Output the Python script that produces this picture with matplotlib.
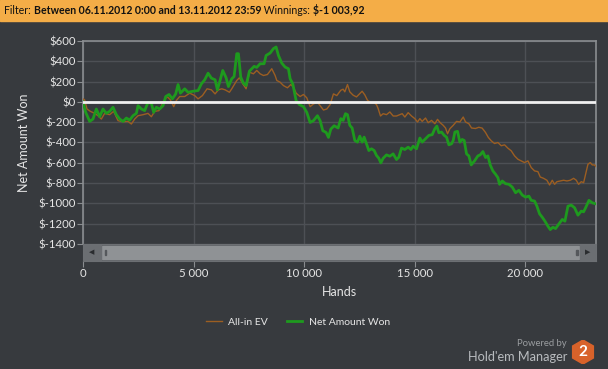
import numpy as np
import matplotlib.pyplot as plt
from matplotlib.patches import Rectangle, RegularPolygon
from matplotlib.ticker import FuncFormatter

plt.rcParams['font.family'] = ['Lato', 'DejaVu Sans']

# hands / cumulative $ won
net_hands = [0, 121, 302, 452, 603, 754, 905, 1055, 1206, 1357, 1508, 1659, 1810, 1961,
             2111, 2262, 2413, 2489, 2640, 2790, 2941, 3092, 3197, 3318, 3469, 3620,
             3741, 3891, 4042, 4193, 4299, 4404, 4600, 4751, 4977, 5204, 5354, 5505,
             5656, 5807, 5973, 6078, 6199, 6320, 6471, 6576, 6727, 6833, 6954, 7029,
             7134, 7255, 7376, 7526, 7632, 7738, 7858, 8009, 8190, 8281, 8462, 8612,
             8733, 8839, 8990, 9140, 9290, 9367, 9487, 9638, 9789, 9970, 10121, 10271,
             10422, 10603, 10724, 10845, 10995, 11101, 11207, 11357, 11538, 11659,
             11765, 11870, 11961, 12066, 12172, 12292, 12413, 12518, 12624, 12715,
             12820, 12926, 13047, 13167, 13273, 13379, 13469, 13575, 13725, 13876,
             14027, 14178, 14284, 14404, 14555, 14706, 14827, 14932, 15083, 15234,
             15339, 15490, 15641, 15792, 15912, 16003, 16093, 16214, 16335, 16440,
             16546, 16667, 16742, 16818, 16938, 17044, 17149, 17240, 17345, 17451,
             17557, 17707, 17858, 17964, 18085, 18205, 18311, 18416, 18537, 18658,
             18763, 18839, 18959, 19110, 19261, 19412, 19563, 19713, 19864, 20015,
             20166, 20271, 20422, 20528, 20648, 20769, 20890, 21026, 21131, 21252,
             21372, 21523, 21674, 21795, 21931, 22081, 22232, 22383, 22534, 22640,
             22730, 22881, 23032, 23182]
net_won = [0, -103, -192, -169, -70, -146, -70, -113, -93, -53, -126, -169, -192, -159,
           -179, -136, -113, -37, -70, -86, -4, -14, -103, -53, -70, -37,
           53, 73, 30, 79, 171, 86, 129, 95, 105, 112, 178, 218,
           283, 234, 218, 119, 211, 310, 238, 151, 228, 250, 475, 475,
           244, 184, 161, 303, 327, 350, 340, 376, 376, 458, 481, 525,
           541, 458, 382, 343, 327, 228, 178, 13, -27, -47, -103, -202,
           -185, -136, -185, -284, -301, -350, -268, -235, -257, -165,
           -182, -116, -126, -231, -257, -380, -396, -337, -396, -347,
           -413, -479, -462, -479, -528, -555, -601, -555, -522, -535,
           -512, -568, -545, -455, -469, -446, -469, -436, -462, -356,
           -396, -363, -330, -323, -264, -238, -304, -297, -330, -347,
           -423, -413, -380, -297, -290, -396, -370, -380, -512, -532,
           -621, -581, -532, -522, -489, -548, -532, -621, -680, -713,
           -746, -812, -779, -806, -812, -839, -895, -871, -918, -938,
           -928, -970, -977, -1027, -1103, -1136, -1175, -1225, -1258, -1235,
           -1248, -1202, -1158, -1175, -1027, -1017, -1043, -1116, -1076, -1083,
           -1043, -970, -994, -1004]

ev_hands = [0, 75, 181, 332, 528, 679, 830, 980, 1206, 1387, 1584, 1810, 2036, 2187,
            2338, 2489, 2715, 2941, 3092, 3243, 3439, 3620, 3801, 3952, 4103, 4223,
            4374, 4600, 4826, 5053, 5204, 5400, 5611, 5807, 5973, 6123, 6275, 6425,
            6622, 6727, 6954, 7074, 7225, 7376, 7526, 7707, 7858, 8009, 8160, 8341,
            8537, 8688, 8764, 8914, 9064, 9245, 9397, 9517, 9638, 9819, 9970, 10121,
            10271, 10422, 10603, 10724, 10875, 11026, 11176, 11327, 11478, 11659,
            11765, 11840, 11961, 12066, 12217, 12368, 12518, 12624, 12745, 12865,
            13017, 13167, 13273, 13348, 13454, 13575, 13725, 13876, 14027, 14178,
            14329, 14434, 14555, 14706, 14857, 15008, 15128, 15234, 15339, 15490,
            15611, 15762, 15912, 16033, 16154, 16290, 16395, 16486, 16591, 16742,
            16893, 17044, 17195, 17300, 17451, 17571, 17750, 17900, 18050, 18200,
            18330, 18462, 18612, 18763, 18914, 19065, 19216, 19367, 19517, 19668,
            19819, 19970, 20121, 20271, 20422, 20573, 20679, 20830, 20980, 21101,
            21222, 21327, 21433, 21584, 21735, 21885, 22036, 22187, 22308, 22413,
            22534, 22640, 22730, 22836, 22941, 23032, 23137, 23213]
ev_won = [30, 20, -70, -93, -113, -136, -169, -113, -126, -93, -185, -195, -192, -218,
          -169, -136, -126, -113, -146, -93, -86, -4, 53, 20, -47, 14,
          53, 53, 86, 62, 30, 62, 129, 119, 79, 119, 129, 119,
          95, 129, 211, 238, 178, 129, 293, 277, 310, 277, 260, 270,
          327, 260, 211, 194, 161, 139, 171, 145, 86, 53, 73, 40,
          -47, -20, -4, -37, -80, -70, -27, 79, 62, 115,
          125, 99, 171, 99, 66, 49, 82, 105, 69, 16,
          -7, -7, -27, -66, -139, -116, -126, -99, -139, -139,
          -126, -116, -149, -106, -139, -165, -198, -165, -192, -159,
          -205, -182, -215, -172, -205, -231, -257, -314, -264, -231,
          -192, -198, -149, -198, -215, -257, -262, -250, -258, -300,
          -350, -383, -410, -400, -432, -423, -456, -482, -532, -565,
          -581, -598, -581, -647, -680, -687, -740, -753, -772, -819,
          -772, -812, -786, -779, -772, -779, -772, -753, -772, -812,
          -786, -796, -713, -614, -598, -621, -621, -641]

y_ticks = list(range(-1400, 601, 200))
x_ticks = [0, 5000, 10000, 15000, 20000]

BG = '#373a3e'
GRID = '#4d5055'
FRAME = '#8a8d90'
TXT = '#e6e6e6'
GREEN = '#1e9a1e'
BROWN = '#9c5e22'

W, H = 608, 369
fig = plt.figure(figsize=(W / 100, H / 100), dpi=100, facecolor=BG)


def box(l, t, r, b):
    return [l / W, 1 - b / H, (r - l) / W, (b - t) / H]


# top filter banner
fig.patches.append(Rectangle((0, 1 - 21 / H), 1, 21 / H, transform=fig.transFigure,
                             color='#f4ad47', zorder=0))
parts = [("Filter: ", 'normal'), ("Between 06.11.2012 0:00 and 13.11.2012 23:59", 'bold'),
         (" Winnings: ", 'normal'), ("$-1 003,92", 'bold')]
xpos = 4
renderer = fig.canvas.get_renderer()
for s, w in parts:
    t = fig.text(xpos / W, 1 - 10.5 / H, s, fontsize=7.6, fontweight=w, color='#111111',
                 va='center', ha='left')
    xpos += t.get_window_extent(renderer).width

ax = fig.add_axes(box(83, 41, 596, 244))
ax.set_facecolor(BG)
ax.plot(ev_hands, ev_won, color=BROWN, lw=1.0, label='All-in EV', zorder=3)
ax.plot(net_hands, net_won, color=GREEN, lw=2.0, label='Net Amount Won', zorder=4)
ax.axhline(0, color='#f0f0f0', lw=2.0, zorder=5)
ax.set_xlim(0, 23200)
ax.set_ylim(-1400, 600)
ax.set_yticks(y_ticks)
ax.set_xticks(x_ticks)
ax.yaxis.set_major_formatter(FuncFormatter(lambda v, p: f"${int(v)}"))
ax.tick_params(axis='y', colors=FRAME, labelcolor=TXT, labelsize=8.2, length=4, pad=1)
ax.tick_params(axis='x', bottom=False, labelbottom=False)
ax.grid(True, color=GRID, lw=1.0)
for sp in ax.spines.values():
    sp.set_color(FRAME)
    sp.set_linewidth(1.2)
ax.spines['bottom'].set_visible(False)
ax.set_ylabel('Net Amount Won', color=TXT, fontsize=9, labelpad=6)

# scrollbar under the plot, it also carries the hand ticks
sb = fig.add_axes(box(83, 244, 596, 261))
sb.set_facecolor('#5d6064')
sb.set_xlim(0, 23200)
sb.set_ylim(0, 1)
sb.set_yticks([])
sb.set_xticks(x_ticks)
sb.xaxis.set_major_formatter(FuncFormatter(lambda v, p: f"{int(v):,}".replace(',', ' ')))
sb.tick_params(axis='x', colors=FRAME, labelcolor=TXT, labelsize=8.2, length=4, pad=1)
for sp in sb.spines.values():
    sp.set_color('#6c6f73')
sb.add_patch(Rectangle((0.037, 0.14), 0.93, 0.72, transform=sb.transAxes,
                       color='#8f9295', zorder=2))
sb.add_patch(Rectangle((0.0, 0.0), 0.035, 1.0, transform=sb.transAxes,
                       color='#6b6e72', zorder=2))
sb.add_patch(Rectangle((0.968, 0.0), 0.032, 1.0, transform=sb.transAxes,
                       color='#6b6e72', zorder=2))
for gx in (0.042, 0.961):
    sb.add_patch(Rectangle((gx, 0.35), 0.003, 0.3, transform=sb.transAxes,
                           color='#55585c', zorder=3))
sb.text(0.017, 0.5, '◀', transform=sb.transAxes, fontsize=5, color='#2a2c2f',
        family='DejaVu Sans', ha='center', va='center', zorder=3)
sb.text(0.984, 0.5, '▶', transform=sb.transAxes, fontsize=5, color='#2a2c2f',
        family='DejaVu Sans', ha='center', va='center', zorder=3)
sb.set_xlabel('Hands', color=TXT, fontsize=9, labelpad=5)

# legend
fig.legend(handles=ax.get_lines()[:2], loc='center', bbox_to_anchor=(298 / W, 1 - 322 / H),
           ncol=2, frameon=False, fontsize=7.5, labelcolor=TXT, handlelength=1.5,
           columnspacing=1.8, handletextpad=0.6)

# branding
fig.text(567 / W, 1 - 344 / H, 'Powered by', fontsize=6.8, color='#9a9da0', ha='right', va='center')
fig.text(567 / W, 1 - 357 / H, "Hold'em Manager", fontsize=9.2, color='#b8bbbe', ha='right', va='center')
lg = fig.add_axes(box(571, 340, 595, 364))
lg.set_xlim(-1, 1)
lg.set_ylim(-1, 1)
lg.axis('off')
lg.add_patch(RegularPolygon((0, 0), 6, radius=1.0, orientation=0, color='#d8622a'))
lg.text(0, -0.02, '2', fontsize=11, fontweight='bold', color='white', ha='center', va='center')

fig.savefig('out.png', dpi=100, facecolor=BG)
